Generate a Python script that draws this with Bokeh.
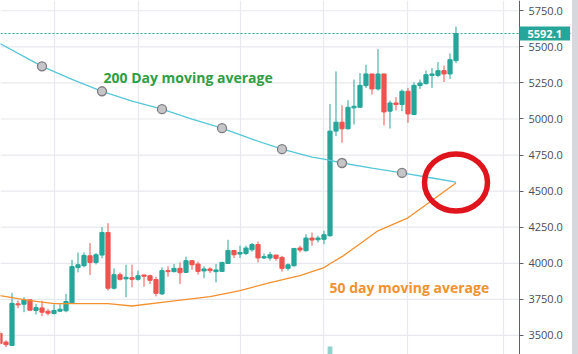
import numpy as np
from bokeh.plotting import figure
from bokeh.models import (Range1d, FixedTicker, NumeralTickFormatter, Label, Span,
                          ColumnDataSource, Spacer)
from bokeh.layouts import row
from bokeh.embed import file_html
from bokeh.resources import INLINE

# ---------------- data ----------------
opens = [3514, 3454, 3431, 3719, 3716, 3747, 3673, 3691, 3668, 3652,
         3668, 3671, 3726, 3970, 3983, 4052, 4006, 4057, 4213, 3827,
         3921, 3892, 3900, 3889, 3919, 3914, 3887, 3788, 3949, 3942,
         3965, 3937, 4018, 3995, 3947, 3961, 3942, 3944, 3999, 4089,
         4064, 4068, 4094, 4130, 4037, 4037, 4057, 4041, 3965, 3983,
         4106, 4087, 4175, 4163, 4166, 4191, 4916, 4978, 4932, 5077,
         5081, 5231, 5312, 5208, 5312, 5054, 5111, 5100, 5192, 5031,
         5231, 5245, 5302, 5302, 5335, 5312, 5404]
closes = [3445, 3436, 3723, 3712, 3747, 3675, 3693, 3661, 3654, 3673,
          3682, 3735, 3977, 3990, 4055, 4006, 4059, 4213, 3827, 3921,
          3889, 3903, 3889, 3914, 3910, 3882, 3792, 3949, 3942, 3965,
          3935, 4018, 3990, 3944, 3961, 3949, 3954, 4006, 4089, 4059,
          4075, 4106, 4130, 4037, 4046, 4059, 4034, 3965, 3990, 4103,
          4092, 4175, 4161, 4175, 4198, 4916, 4978, 4932, 5081, 5088,
          5233, 5312, 5208, 5312, 5049, 5111, 5100, 5192, 5035, 5233,
          5249, 5307, 5312, 5335, 5312, 5411, 5592.1]
highs = [3528, 3466, 3795, 3742, 3765, 3749, 3719, 3740, 3684, 3714,
         3723, 3788, 4023, 4075, 4075, 4140, 4071, 4251, 4278, 3965,
         3937, 3990, 3990, 3949, 3921, 3921, 3907, 3972, 3979, 3995,
         4006, 4046, 4020, 4011, 3979, 3972, 3995, 4011, 4163, 4090,
         4122, 4122, 4140, 4151, 4068, 4080, 4059, 4052, 3999, 4106,
         4122, 4202, 4213, 4191, 4225, 5104, 5330, 5095, 5130, 5273,
         5318, 5376, 5312, 5484, 5314, 5128, 5151, 5204, 5215, 5254,
         5273, 5337, 5353, 5394, 5370, 5454, 5641]
lows = [3438, 3419, 3426, 3689, 3661, 3673, 3645, 3633, 3638, 3645,
        3664, 3661, 3721, 3937, 3972, 3919, 3992, 4034, 3811, 3818,
        3880, 3765, 3834, 3880, 3838, 3857, 3771, 3781, 3907, 3937,
        3857, 3933, 3956, 3921, 3896, 3933, 3868, 3942, 3995, 4037,
        4037, 4057, 4080, 4006, 4030, 4018, 4018, 3942, 3949, 3977,
        4075, 4082, 4122, 4144, 4133, 4184, 4881, 4835, 4927, 4962,
        5077, 5215, 5169, 5197, 4955, 4934, 5059, 5054, 4973, 5026,
        5208, 5238, 5215, 5289, 5256, 5277, 5387]

ma200_idx = [0, 7, 12, 17, 22, 27, 32, 37, 42, 47, 52, 54, 57, 62, 67, 72, 76]
ma200 = [5523, 5365, 5275, 5192, 5123, 5068, 4999, 4936, 4860,
         4791, 4736, 4722, 4695, 4660, 4626, 4591, 4563]
ma200_marker_idx = [7, 17, 27, 37, 47, 57, 67]

ma50_idx = [0, 5, 9, 18, 22, 28, 35, 40, 45, 50, 54, 55, 57, 60, 63, 68, 71, 76]
ma50 = [3776, 3742, 3721, 3721, 3704, 3735, 3769, 3811, 3866, 3914,
        3970, 3997, 4046, 4135, 4225, 4315, 4405, 4557]

volume_idx = [55]
volume = [1.0]

last_price = 5592.1
price_ticks = [3500, 3750, 4000, 4250, 4500, 4750, 5000, 5250, 5500, 5750]
grid_days = [9, 23, 40, 54, 68, 84]

label_200 = "200 Day moving average"
label_50 = "50 day moving average"

# ---------------- layout / styles ----------------
UP = "#26a69a"
DOWN = "#ef5350"
FONT = "Open Sans"
GRID = "#e7e9ee"

X_START, X_END = 0.083, 95.417      # frame spans the full 572 px
AXIS_X = 86.583                     # price scale sits at px 519

p = figure(width=572, height=354,
           x_range=Range1d(X_START, X_END), y_range=Range1d(3368, 5821),
           output_backend="svg", toolbar_location=None,
           x_axis_location=None, y_axis_location="right",
           min_border_left=0, min_border_top=0, min_border_bottom=0,
           min_border_right=0)
p.outline_line_color = None
p.background_fill_color = "white"
p.border_fill_color = "white"
p.extra_y_ranges = {"vol": Range1d(0, 44)}

# grids: vertical from the library grid, horizontal only up to the price scale
p.ygrid.visible = False
p.xgrid.ticker = FixedTicker(ticks=grid_days)
p.xgrid.grid_line_color = GRID
p.xgrid.grid_line_width = 1.2
p.segment(x0=X_START, x1=AXIS_X, y0=price_ticks, y1=price_ticks,
          line_color=GRID, line_width=1.2)

# price scale (real axis, fixed inside the frame)
ax = p.yaxis[0]
ax.fixed_location = AXIS_X
ax.ticker = FixedTicker(ticks=price_ticks)
ax.formatter = NumeralTickFormatter(format="0.0")
ax.major_label_text_font = FONT
ax.major_label_text_font_size = "11px"
ax.major_label_text_color = "#4a4d57"
ax.axis_line_color = "#5d606b"
ax.major_tick_line_color = "#5d606b"
ax.major_tick_in = 0
ax.major_tick_out = 4
ax.minor_tick_out = 0
ax.minor_tick_in = 0
ax.major_label_standoff = 5

# candles
idx = np.arange(len(closes))
o = np.array(opens, dtype=float)
c = np.array(closes, dtype=float)
colors = [UP if cc >= oo else DOWN for oo, cc in zip(o, c)]
src = ColumnDataSource(dict(x=idx, h=highs, l=lows,
                            top=np.maximum(o, c), bot=np.minimum(o, c),
                            color=colors))

p.vbar(x=volume_idx, top=volume, bottom=0, width=0.8, y_range_name="vol",
       fill_color=UP, fill_alpha=0.5, line_color=None)

p.segment(x0="x", y0="h", x1="x", y1="l", line_color="color", line_width=1, source=src)
p.vbar(x="x", width=0.7, top="top", bottom="bot", fill_color="color",
       line_color="color", line_width=1, source=src)

# moving averages
p.line(ma200_idx, ma200, line_color="#56c7d9", line_width=1.3)
p.line(ma50_idx, ma50, line_color="#f5902f", line_width=1.3)
mk_y = [ma200[ma200_idx.index(i)] for i in ma200_marker_idx]
p.scatter(ma200_marker_idx, mk_y, size=9, fill_color="#c6c6c9",
          line_color="#7d7d82", line_width=1.3)

# last price line and label
p.add_layout(Span(location=last_price, dimension="width", line_color=UP,
                  line_dash="2 2", line_width=1))
p.add_layout(Label(x=AXIS_X, y=last_price, text=f"{last_price:.1f}",
                   text_color="white", text_font=FONT, text_font_size="11px",
                   text_font_style="bold", text_baseline="middle",
                   background_fill_color=UP, padding=(8, 8, 3, 3)))

# highlight ring at the cross-over
cx = ma50_idx[-1]
cy = (ma50[-1] + ma200[-1]) / 2
p.ellipse(x=[cx], y=[cy], width=63, height=57, width_units="screen",
          height_units="screen", fill_color=None, line_color="#e0141c", line_width=5.5)

# annotation texts
p.add_layout(Label(x=103, y=277, x_units="screen", y_units="screen", text=label_200,
                   text_font=FONT, text_font_style="bold", text_font_size="14px",
                   text_color="#2f9e44", text_baseline="alphabetic"))
p.add_layout(Label(x=329, y=67, x_units="screen", y_units="screen", text=label_50,
                   text_font=FONT, text_font_style="bold", text_font_size="14px",
                   text_color="#f0922f", text_baseline="alphabetic"))

strip = Spacer(width=6, height=354, styles={"background-color": "#d7d8dd"})
layout = row(p, strip)

open("out.html", "w").write(file_html(layout, INLINE))
